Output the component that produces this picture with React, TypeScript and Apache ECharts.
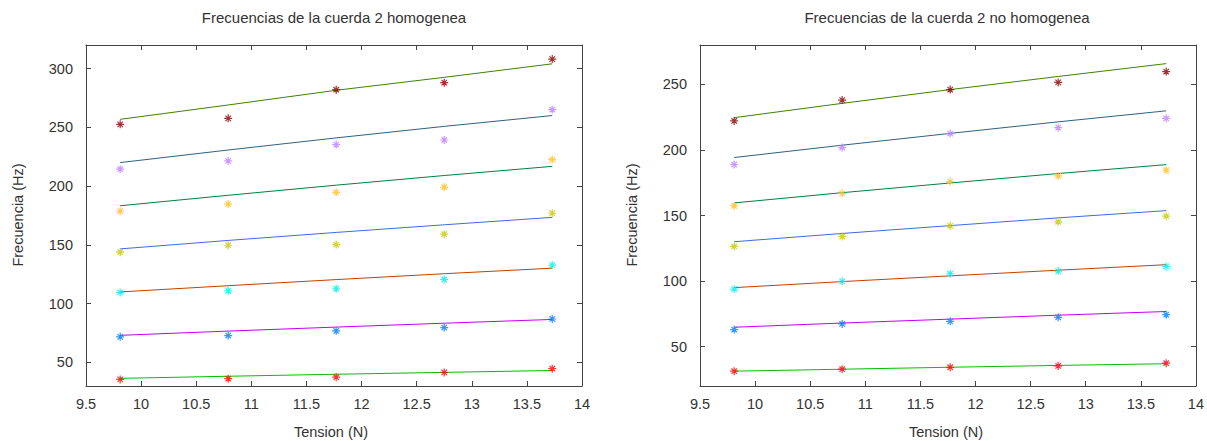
import React, { useEffect, useRef } from "react";
import * as echarts from "echarts";

const tension = [9.81, 10.79, 11.77, 12.75, 13.73];

const xTicks = [9.5, 10, 10.5, 11, 11.5, 12, 12.5, 13, 13.5, 14];
const homYTicks = [50, 100, 150, 200, 250, 300];
const noHomYTicks = [50, 100, 150, 200, 250];

const homMeasured = [
  [35.6, 36.2, 37.5, 41.5, 44.7],
  [71.8, 72.9, 76.8, 79.7, 87.0],
  [109.6, 111.0, 112.7, 120.6, 132.8],
  [143.8, 149.7, 150.3, 159.1, 176.9],
  [178.6, 184.7, 194.7, 199.2, 222.6],
  [214.4, 221.4, 235.3, 239.2, 265.0],
  [252.5, 257.6, 282.0, 288.0, 308.0],
];
const homFit = [
  [36.5, 38.3, 40.0, 41.6, 43.2],
  [73.1, 76.7, 80.1, 83.4, 86.6],
  [110.0, 115.3, 120.5, 125.5, 130.2],
  [146.6, 153.8, 160.6, 167.1, 173.4],
  [183.3, 192.2, 200.8, 209.0, 216.8],
  [220.0, 230.7, 241.0, 250.8, 260.0],
  [256.8, 269.0, 281.5, 292.5, 304.0],
];
const noHomMeasured = [
  [31.3, 32.8, 34.3, 35.3, 37.4],
  [63.0, 67.3, 69.3, 72.4, 74.4],
  [93.9, 99.8, 105.6, 107.6, 111.2],
  [126.4, 134.0, 142.1, 145.2, 149.5],
  [157.3, 166.8, 175.9, 180.2, 184.5],
  [188.9, 201.8, 212.5, 217.0, 224.0],
  [222.1, 238.0, 246.0, 251.5, 259.7],
];
const noHomFit = [
  [31.3, 32.8, 34.3, 35.7, 37.0],
  [64.8, 68.0, 71.0, 74.0, 76.8],
  [95.0, 99.6, 104.0, 108.3, 112.5],
  [130.0, 136.3, 142.3, 148.2, 153.7],
  [159.6, 167.4, 174.8, 182.0, 188.8],
  [194.2, 203.6, 212.6, 221.4, 229.8],
  [224.6, 235.5, 246.0, 256.0, 265.8],
];

const pointColors = ["#ff0000", "#0080ff", "#00eeee", "#c8c800", "#ffc020", "#c080ff", "#8b0000"];
const lineColors = ["#00c000", "#c000ff", "#c04000", "#4169e1", "#008040", "#306080", "#408000"];

const FONT = "'Liberation Sans', Arial, sans-serif";
const FRAME = "#444";
const TEXT = "#333";
const STAR = "path://M5,0L5,10M0,5L10,5M1.6,1.6L8.4,8.4M8.4,1.6L1.6,8.4";

function xAxes(g: number) {
  const base = {
    type: "value",
    gridIndex: g,
    min: 9.5,
    max: 14,
    interval: 0.5,
    splitLine: { show: false },
    axisLine: { show: true, onZero: false, lineStyle: { color: FRAME, width: 1 } },
    axisTick: { show: true, inside: true, length: 5, customValues: xTicks, lineStyle: { color: FRAME } },
  };
  return [
    {
      ...base,
      position: "bottom",
      axisLabel: {
        color: TEXT,
        fontSize: 14.5,
        fontFamily: FONT,
        margin: 10,
        customValues: xTicks,
        formatter: (v: number) => String(v),
      },
    },
    { ...base, position: "top", axisLabel: { show: false } },
  ];
}

function yAxes(g: number, min: number, max: number, ticks: number[]) {
  const base = {
    type: "value",
    gridIndex: g,
    min,
    max,
    splitLine: { show: false },
    axisLine: { show: true, onZero: false, lineStyle: { color: FRAME, width: 1 } },
    axisTick: { show: true, inside: true, length: 5, customValues: ticks, lineStyle: { color: FRAME } },
  };
  return [
    {
      ...base,
      position: "left",
      axisLabel: { color: TEXT, fontSize: 14.5, fontFamily: FONT, margin: 13, customValues: ticks },
    },
    { ...base, position: "right", axisLabel: { show: false } },
  ];
}

function seriesFor(g: number, measured: number[][], fit: number[][]) {
  const out: any[] = [];
  measured.forEach((vals, i) => {
    out.push({
      type: "scatter",
      xAxisIndex: g * 2,
      yAxisIndex: g * 2,
      data: tension.map((t, j) => [t, vals[j]]),
      symbol: STAR,
      symbolSize: 8,
      itemStyle: { color: pointColors[i], borderColor: pointColors[i], borderWidth: 1.2 },
      z: 3,
    });
    out.push({
      type: "line",
      xAxisIndex: g * 2,
      yAxisIndex: g * 2,
      data: tension.map((t, j) => [t, fit[i][j]]),
      symbol: "none",
      showSymbol: false,
      lineStyle: { color: lineColors[i], width: 1 },
      z: 2,
    });
  });
  return out;
}

export default function App() {
  const ref = useRef<HTMLDivElement>(null);
  useEffect(() => {
    if (!ref.current) return;
    const chart = echarts.init(ref.current, undefined, { renderer: "svg" });
    const textStyle = { fill: TEXT, fontSize: 14.5, fontFamily: FONT, textAlign: "center", textVerticalAlign: "middle" };
    chart.setOption({
      animation: false,
      backgroundColor: "#ffffff",
      grid: [
        { left: 86, top: 45, width: 496, height: 341 },
        { left: 700, top: 45, width: 497, height: 341 },
      ],
      xAxis: [...xAxes(0), ...xAxes(1)],
      yAxis: [...yAxes(0, 30, 320, homYTicks), ...yAxes(1, 20, 280, noHomYTicks)],
      series: [...seriesFor(0, homMeasured, homFit), ...seriesFor(1, noHomMeasured, noHomFit)],
      graphic: [
        { type: "text", x: 334, y: 17, style: { ...textStyle, fontSize: 15, text: "Frecuencias de la cuerda 2 homogenea" } },
        { type: "text", x: 947, y: 17, style: { ...textStyle, fontSize: 15, text: "Frecuencias de la cuerda 2 no homogenea" } },
        { type: "text", x: 331, y: 432, style: { ...textStyle, text: "Tension (N)" } },
        { type: "text", x: 946, y: 432, style: { ...textStyle, text: "Tension (N)" } },
        { type: "text", x: 18, y: 215, rotation: Math.PI / 2, style: { ...textStyle, text: "Frecuencia (Hz)" } },
        { type: "text", x: 632, y: 215, rotation: Math.PI / 2, style: { ...textStyle, text: "Frecuencia (Hz)" } },
      ],
    });
    return () => chart.dispose();
  }, []);
  return <div ref={ref} style={{ position: "absolute", left: 0, top: 0, width: 1207, height: 441 }} />;
}
